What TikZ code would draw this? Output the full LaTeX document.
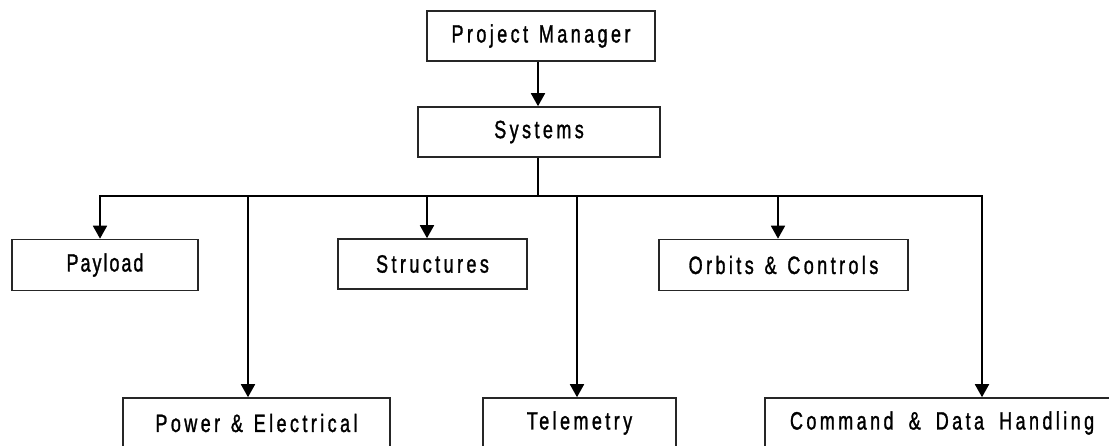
\documentclass[tikz,border=0pt]{standalone}
\usepackage{graphicx}
\usepackage{fontspec}
\setmainfont{Liberation Sans}[LetterSpace=19,FakeBold=1.5]
\usetikzlibrary{arrows.meta}
\newcommand\narrowtxt[1]{\scalebox{0.72}[1]{\spaceskip=15pt\relax #1}}
\begin{document}
\begin{tikzpicture}[x=1pt,y=-1pt,
  box/.style={draw=black!85,line width=1.6pt,fill=white,inner sep=0pt,
    font=\fontsize{25}{30}\selectfont},
  conn/.style={line width=1.8pt,black},
  arr/.style={conn,-{Triangle[width=14pt,length=13pt]}}]
\useasboundingbox (0,0) rectangle (1109,446);
\node[box,minimum width=228pt,minimum height=50pt] (pm) at (541,36) {\narrowtxt{Project Manager}};
\node[box,minimum width=242pt,minimum height=50pt] (sys) at (539,132) {\narrowtxt{Systems}};
\node[box,minimum width=186pt,minimum height=51pt] (pay) at (105,265) {\narrowtxt{\addfontfeature{LetterSpace=11}Payload}};
\node[box,minimum width=189pt,minimum height=50pt] (str) at (432.5,264) {\narrowtxt{Structures}};
\node[box,minimum width=249pt,minimum height=51pt] (orb) at (783.5,265) {\narrowtxt{Orbits \& Controls}};
\node[box,minimum width=267pt,minimum height=50pt] (pow) at (256.5,423) {\narrowtxt{Power \& Electrical}};
\node[box,minimum width=193pt,minimum height=50pt] (tel) at (579.5,423) {\narrowtxt{Telemetry}};
\node[box,minimum width=365pt,minimum height=50pt,text width=365pt,align=left] (cdh) at (947.5,423) {\hspace*{25pt}\narrowtxt{\spaceskip=21pt\relax Command \& Data Handling}};
\coordinate (b0) at (538,196);
\coordinate (b1) at (100,196);
\coordinate (b2) at (248,196);
\coordinate (b3) at (427,196);
\coordinate (b4) at (577,196);
\coordinate (b5) at (778,196);
\coordinate (b6) at (982,196);
\draw[arr] (b0 |- pm.south) -- (b0 |- sys.north);
\draw[conn] (b0 |- sys.south) -- (b0);
\draw[conn,line join=miter] (b1) ++(0,1) -- (b1) -- (b6) -- ++(0,1);
\draw[arr] (b1) -- (b1 |- pay.north);
\draw[arr] (b2) -- (b2 |- pow.north);
\draw[arr] (b3) -- (b3 |- str.north);
\draw[arr] (b4) -- (b4 |- tel.north);
\draw[arr] (b5) -- (b5 |- orb.north);
\draw[arr] (b6) -- (b6 |- cdh.north);
\end{tikzpicture}
\end{document}
